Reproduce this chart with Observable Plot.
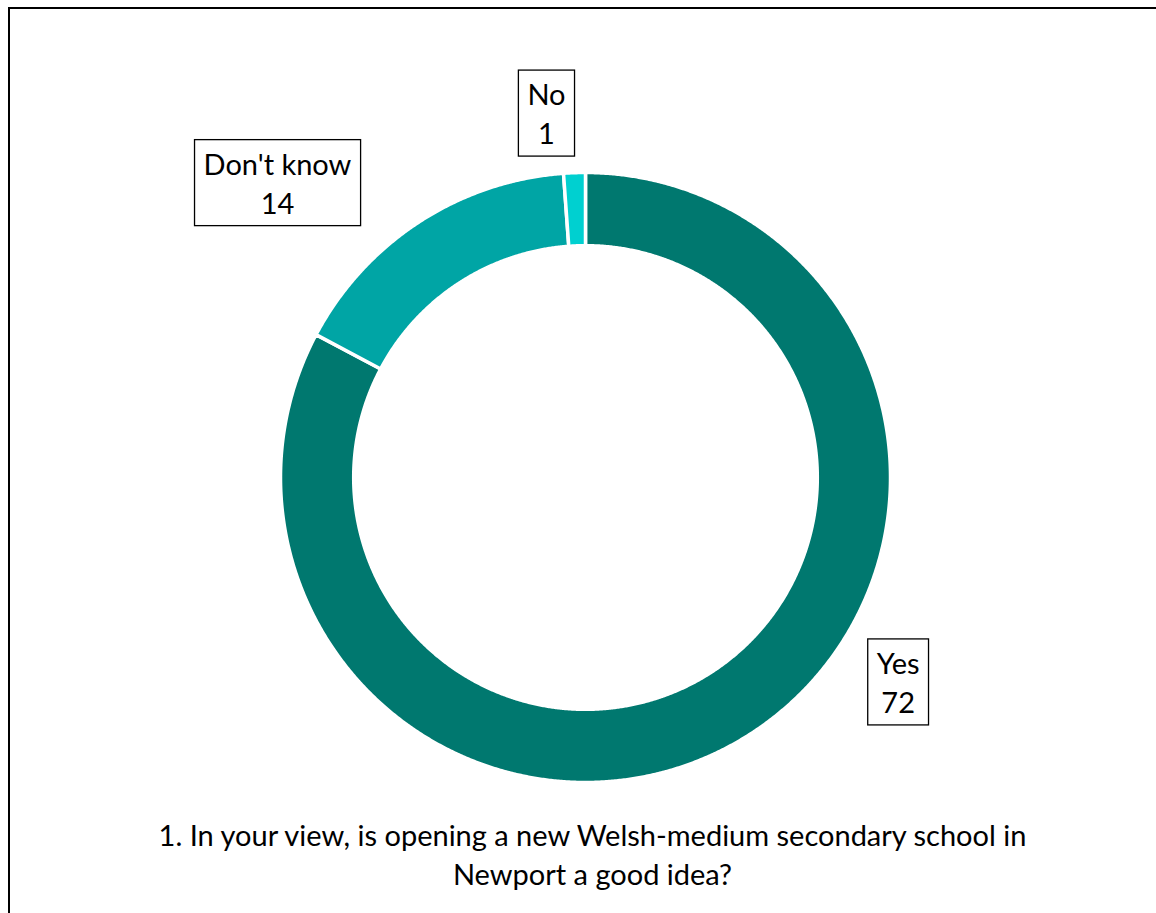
<!DOCTYPE html>
<html>
<head>
<meta charset="utf-8">
<script src="https://cdn.jsdelivr.net/npm/d3@7"></script>
<script src="https://cdn.jsdelivr.net/npm/@observablehq/plot@0.6"></script>
<style>
  html, body { margin: 0; padding: 0; background: #fff; overflow: hidden; }
  #wrap { position: relative; width: 1156px; height: 913px; overflow: hidden; background: #fff; }
  #frame { position: absolute; left: 8px; top: 7px; width: 1300px; height: 1100px; border: 2px solid #000; box-shadow: 1px 1px 1px #aaa; }
  #chart { position: absolute; left: 0; top: 0; }
  #caption { position: absolute; left: 0; top: 815px; width: 1185px; text-align: center;
    font-family: Lato, "Open Sans", sans-serif; font-size: 29px; line-height: 39px; color: #000; white-space: nowrap; }
</style>
</head>
<body>
<div id="wrap">
  <div id="frame"></div>
  <div id="chart"></div>
  <div id="caption">1. In your view, is opening a new Welsh-medium secondary school in<br>Newport a good idea?</div>
</div>
<script>
// ---- data ----
const categories = ["Yes", "Don't know", "No"];
const values = [72, 14, 1];
const colors = ["#00786F", "#00A5A5", "#00D0D0"];

// ---- layout (pixels / radius units) ----
const W = 1156, H = 913;
const CX = 585, CY = 477, R = 305;     // pie centre & outer radius in px
const INNER = 0.76;                    // inner radius as fraction of outer
const labelPos = [                     // label box centres in radius units
  {x: 1.025, y: -0.667},
  {x: -1.010, y: 0.970},
  {x: -0.128, y: 1.198}
];

const rows = categories.map((c, i) => ({category: c, value: values[i]}));
const arcs = d3.pie().sort(null).value(d => d.value)(rows);

// polygon outline of each ring slice (geometry only)
const outline = [];
for (const a of arcs) {
  const n = Math.max(2, Math.ceil((a.endAngle - a.startAngle) / 0.005));
  for (let k = 0; k <= n; k++) {
    const t = a.startAngle + (a.endAngle - a.startAngle) * k / n;
    outline.push({category: a.data.category, x: Math.sin(t), y: Math.cos(t)});
  }
  for (let k = n; k >= 0; k--) {
    const t = a.startAngle + (a.endAngle - a.startAngle) * k / n;
    outline.push({category: a.data.category, x: INNER * Math.sin(t), y: INNER * Math.cos(t)});
  }
}

const labels = rows.map((d, i) => ({...d, x: labelPos[i].x, y: labelPos[i].y}));

const plot = Plot.plot({
  width: W, height: 800,
  margin: 0,
  x: {domain: [-CX / R, (W - CX) / R], range: [0, W], axis: null},
  y: {domain: [CY / R, (CY - 800) / R], range: [0, 800], axis: null},
  color: {domain: categories, range: colors},
  style: {background: "transparent"},
  marks: [
    Plot.line(outline, {x: "x", y: "y", z: "category", fill: "category",
      stroke: "white", strokeWidth: 3.5, curve: "linear-closed"}),
    Plot.text(labels, {x: "x", y: "y", text: d => d.category + "\n" + d.value,
      fontSize: 29, lineHeight: 1.345, lineAnchor: "middle", fill: "#000",
      fontFamily: "Lato, 'Open Sans', sans-serif"})
  ]
});
document.getElementById("chart").appendChild(plot);

// boxes around labels
plot.querySelectorAll("text").forEach(t => {
  const b = t.getBBox();
  const padX = 9, padY = 6;
  const rect = document.createElementNS("http://www.w3.org/2000/svg", "rect");
  rect.setAttribute("x", b.x - padX);
  rect.setAttribute("y", b.y - padY);
  rect.setAttribute("width", b.width + 2 * padX);
  rect.setAttribute("height", b.height + 2 * padY);
  rect.setAttribute("fill", "white");
  rect.setAttribute("stroke", "black");
  rect.setAttribute("stroke-width", "1.3");
  const tr = t.getAttribute("transform");
  if (tr) rect.setAttribute("transform", tr);
  t.parentNode.insertBefore(rect, t);
});
</script>
</body>
</html>
